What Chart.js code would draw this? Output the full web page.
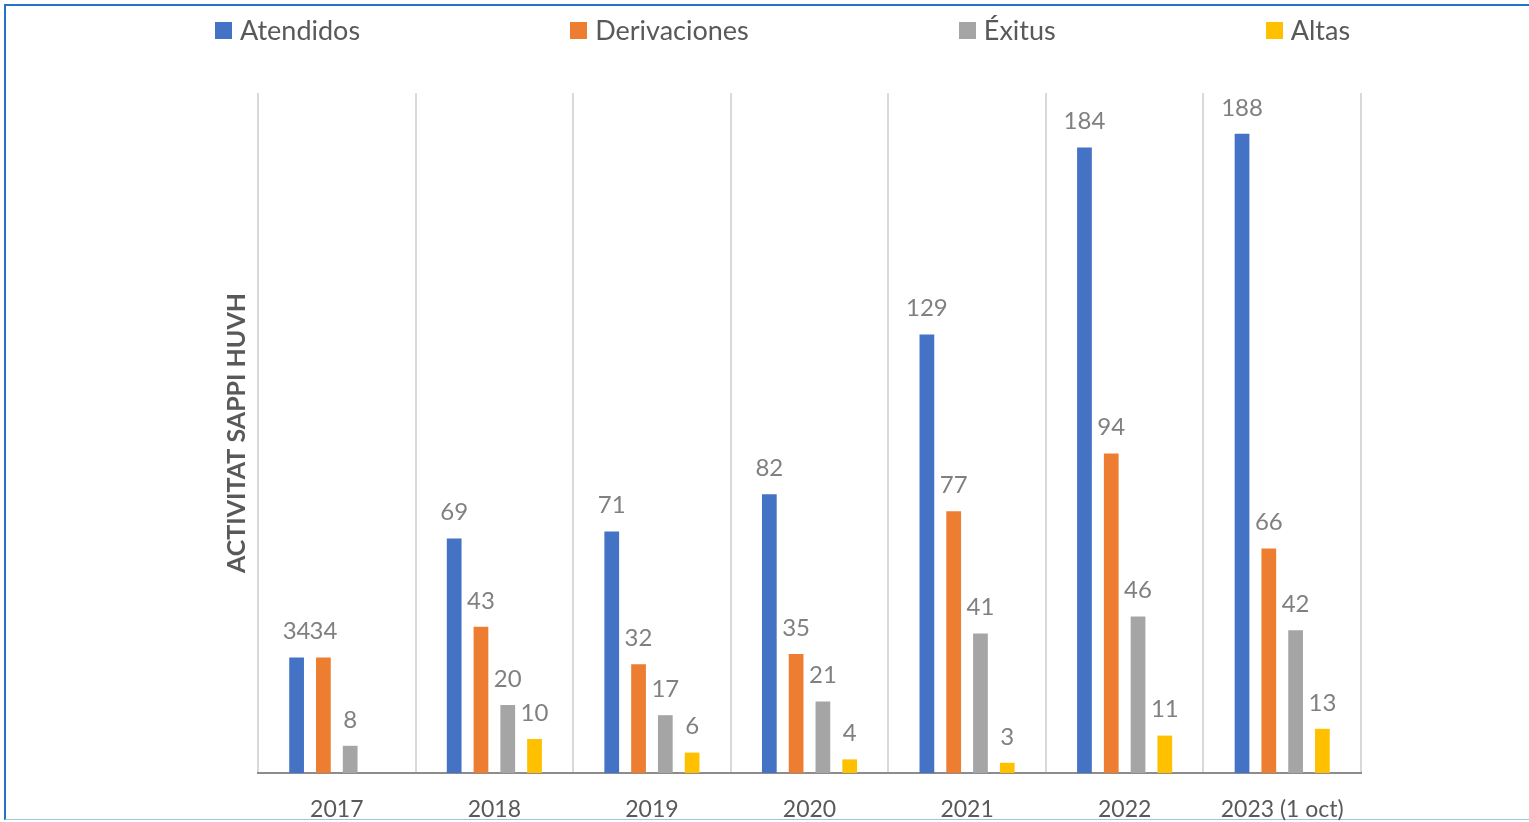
<!DOCTYPE html>
<html>
<head>
<meta charset="utf-8">
<title>Activitat SAPPI HUVH</title>
<script src="https://cdn.jsdelivr.net/npm/chart.js@4.4.1/dist/chart.umd.min.js"></script>
<style>
  html, body { margin: 0; padding: 0; background: #fff; overflow: hidden; }
  #frame {
    position: absolute; left: 4px; top: 4px; width: 1540px; height: 813px;
    border: 2px solid #2474c6; border-bottom: 1px solid #9dc3e6;
  }
  #chart { position: absolute; left: 0; top: 0; }
  #legend {
    position: absolute; left: 215px; top: 16px;
    display: flex; gap: 210px; font-family: Lato, sans-serif;
    font-size: 27px; color: #595959; line-height: 28px;
  }
  #legend .item { display: flex; align-items: center; }
  #legend .box { width: 17px; height: 17px; margin-right: 8px; }
</style>
</head>
<body>
<div id="frame"></div>
<canvas id="chart" width="1529" height="822"></canvas>
<div id="legend"></div>
<script>
const years = ["2017", "2018", "2019", "2020", "2021", "2022", "2023 (1 oct)"]
const atendidos = [34, 69, 71, 82, 129, 184, 188]
const derivaciones = [34, 43, 32, 35, 77, 94, 66]
const exitus = [8, 20, 17, 21, 41, 46, 42]
const altas = [null, 10, 6, 4, 3, 11, 13]

const seriesNames = ["Atendidos", "Derivaciones", "Éxitus", "Altas"]
const seriesColors = ["#4472C4", "#ED7D31", "#A5A5A5", "#FFC000"]
const seriesData = [atendidos, derivaciones, exitus, altas]

// value printed above each bar
const valueLabels = {
  id: "valueLabels",
  afterDatasetsDraw(chart) {
    const ctx = chart.ctx
    ctx.save()
    ctx.font = "24px Lato"
    ctx.fillStyle = "#808080"
    ctx.textAlign = "center"
    ctx.textBaseline = "middle"
    chart.data.datasets.forEach((ds, i) => {
      chart.getDatasetMeta(i).data.forEach((bar, j) => {
        const v = ds.data[j]
        if (v == null) return
        ctx.fillText(String(v), bar.x, bar.y - 26)
      })
    })
    ctx.restore()
  },
}

const chart = new Chart(document.getElementById("chart"), {
  type: "bar",
  data: {
    labels: years,
    datasets: seriesNames.map((name, i) => ({
      label: name,
      data: seriesData[i],
      backgroundColor: seriesColors[i],
      borderWidth: 0,
      categoryPercentage: 0.68,
      barPercentage: 0.55,
    })),
  },
  options: {
    responsive: false,
    animation: false,
    layout: { padding: { left: 218, top: 93, right: 168, bottom: 0 } },
    plugins: {
      legend: { display: false },
      tooltip: { enabled: false },
    },
    scales: {
      x: {
        grid: { offset: true, color: "#d9d9d9", lineWidth: 2, drawTicks: false },
        border: { color: "#8c8c8c", width: 2 },
        ticks: {
          color: "#595959",
          font: { family: "Lato", size: 23 },
          padding: 23,
          maxRotation: 0,
        },
        afterFit(scale) {
          scale.height = 49
        },
      },
      y: {
        min: 0,
        max: 200,
        ticks: { display: false },
        grid: { display: false },
        border: { display: false },
        title: {
          display: true,
          text: "ACTIVITAT SAPPI HUVH",
          color: "#595959",
          font: { family: "Lato", size: 25, weight: "bold" },
        },
        afterFit(scale) {
          scale.width = 40
        },
      },
    },
  },
  plugins: [valueLabels],
})

// html legend built from the datasets
const legendEl = document.getElementById("legend")
chart.data.datasets.forEach((ds) => {
  const item = document.createElement("div")
  item.className = "item"
  const box = document.createElement("span")
  box.className = "box"
  box.style.background = ds.backgroundColor
  const text = document.createElement("span")
  text.textContent = ds.label
  item.appendChild(box)
  item.appendChild(text)
  legendEl.appendChild(item)
})
</script>
</body>
</html>
